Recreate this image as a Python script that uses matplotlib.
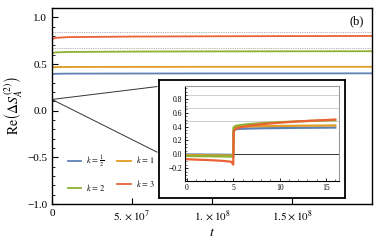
import matplotlib
matplotlib.use('Agg')
import matplotlib.pyplot as plt
from matplotlib.ticker import MultipleLocator

plt.rcParams['font.family'] = ['Liberation Serif', 'DejaVu Serif']
plt.rcParams['mathtext.fontset'] = 'stix'

# series colours (Mathematica 97 style)
colors = ['#5E81B5', '#E19C24', '#8FB032', '#EB6235']
labels = [r'$k\,=\,\frac{1}{2}$', r'$k\,=\,1$', r'$k\,=\,2$', r'$k\,=\,3$']

# main panel, long times
t_main = [0, 2e6, 1e7, 5e7, 1e8, 1.5e8, 2e8]
main_vals = [
    [0.392, 0.395, 0.397, 0.398, 0.399, 0.399, 0.400],
    [0.462, 0.466, 0.468, 0.469, 0.470, 0.470, 0.470],
    [0.615, 0.624, 0.629, 0.633, 0.635, 0.636, 0.637],
    [0.765, 0.780, 0.788, 0.794, 0.797, 0.799, 0.800],
]
asymptotes = [0.848, 0.668, 0.482]

# inset, early times
t_in = [0, 1, 2, 3, 4, 4.8, 5.0, 5.05, 5.3, 6, 7, 8, 10, 12, 14, 16]
inset_vals = [
    [0.0, 0.0, -0.002, -0.003, -0.004, -0.005, -0.01, 0.355, 0.362, 0.368, 0.372, 0.375, 0.378, 0.381, 0.383, 0.385],
    [-0.01, -0.01, -0.012, -0.013, -0.014, -0.015, -0.02, 0.385, 0.392, 0.398, 0.402, 0.405, 0.408, 0.411, 0.413, 0.415],
    [-0.022, -0.024, -0.025, -0.027, -0.028, -0.03, -0.035, 0.39, 0.41, 0.425, 0.437, 0.447, 0.462, 0.474, 0.483, 0.49],
    [-0.068, -0.074, -0.079, -0.085, -0.093, -0.105, -0.145, 0.33, 0.37, 0.395, 0.415, 0.432, 0.455, 0.473, 0.487, 0.5],
]

main_xticks = [0, 5e7, 1e8, 1.5e8]
main_xticklabels = ['0', r'$5.\times10^{7}$', r'$1.\times10^{8}$', r'$1.5\times10^{8}$']
main_yticks = [-1.0, -0.5, 0.0, 0.5, 1.0]
main_yticklabels = ['\u22121.0', '\u22120.5', '0.0', '0.5', '1.0']

fig = plt.figure(figsize=(3.74, 2.44), dpi=100)
W, H = 374, 244


def fig_rect(x0, y0, x1, y1):
    # pixel box (top-left origin) -> figure fraction rect
    return [x0 / W, 1 - y1 / H, (x1 - x0) / W, (y1 - y0) / H]


ax = fig.add_axes(fig_rect(52, 8, 372, 204))
ax.set_xlim(0, 2e8)
ax.set_ylim(-1.0, 1.1)

for y in asymptotes:
    ax.axhline(y, color='#aaaaaa', lw=0.6, ls=(0, (1.5, 1.2)), zorder=1)
handles = []
for vals, c, lab in zip(main_vals, colors, labels):
    h, = ax.plot(t_main, vals, color=c, lw=1.3, label=lab, zorder=2)
    handles.append(h)

ax.set_xticks(main_xticks)
ax.set_xticklabels(main_xticklabels, fontsize=8)
ax.set_yticks(main_yticks)
ax.set_yticklabels(main_yticklabels, fontsize=8)
ax.yaxis.set_minor_locator(MultipleLocator(0.1))
ax.tick_params(direction='in', length=4, width=0.8, top=False, right=False)
ax.tick_params(which='minor', direction='in', length=2, width=0.6)
for s in ax.spines.values():
    s.set_linewidth(1.0)
ax.set_xlabel(r'$t$', fontsize=10, labelpad=2)
ax.set_ylabel(r'$\mathrm{Re}\left(\Delta S_A^{(2)}\right)$', fontsize=10, labelpad=2)
ax.text(0.975, 0.93, '(b)', transform=ax.transAxes, ha='right', va='center', fontsize=9)

# row-wise order: k=1/2, k=1 on top, k=2, k=3 below
order = [0, 2, 1, 3]
leg = ax.legend([handles[i] for i in order], [labels[i] for i in order],
                loc='lower left', bbox_to_anchor=(0.025, 0.02), ncol=2, frameon=False,
                fontsize=6, handlelength=1.6, columnspacing=1.4, labelspacing=1.5,
                handletextpad=0.6)
for ln in leg.get_lines():
    ln.set_linewidth(1.3)

# zoom lines from the main panel towards the inset box
x_box = (157 - 52) / 320 * 2e8
ax.plot([0, x_box], [0.12, 0.258], color='#333333', lw=0.7, zorder=1)
ax.plot([0, x_box], [0.12, -0.444], color='#333333', lw=0.7, zorder=1)

# inset frame
box = fig.add_axes(fig_rect(159, 80, 345, 198))
box.set_xticks([])
box.set_yticks([])
box.set_facecolor('white')
for s in box.spines.values():
    s.set_linewidth(1.3)

ins = fig.add_axes(fig_rect(185, 86, 339, 181))
ins.set_xlim(-0.2, 16.4)
ins.set_ylim(-0.38, 0.98)
for y in asymptotes:
    ins.axhline(y, color='#bbbbbb', lw=0.5, zorder=1)
ins.axhline(0, color='#333333', lw=0.7, zorder=1)
for vals, c in zip(inset_vals, colors):
    ins.plot(t_in, vals, color=c, lw=1.6, zorder=2)
ins.set_xticks([0, 5, 10, 15])
ins.set_yticks([-0.2, 0.0, 0.2, 0.4, 0.6, 0.8])
ins.set_yticklabels(['\u22120.2', '0.0', '0.2', '0.4', '0.6', '0.8'])
ins.xaxis.set_minor_locator(MultipleLocator(1))
ins.yaxis.set_minor_locator(MultipleLocator(0.05))
ins.tick_params(direction='in', length=2.5, width=0.6, labelsize=5.5, pad=2, top=False, right=False)
ins.tick_params(which='minor', direction='in', length=1.2, width=0.4, top=False, right=False)
ins.spines['top'].set_color('#999999')
ins.spines['right'].set_color('#999999')
for s in ins.spines.values():
    s.set_linewidth(0.8)

fig.savefig('out.png', dpi=100)
